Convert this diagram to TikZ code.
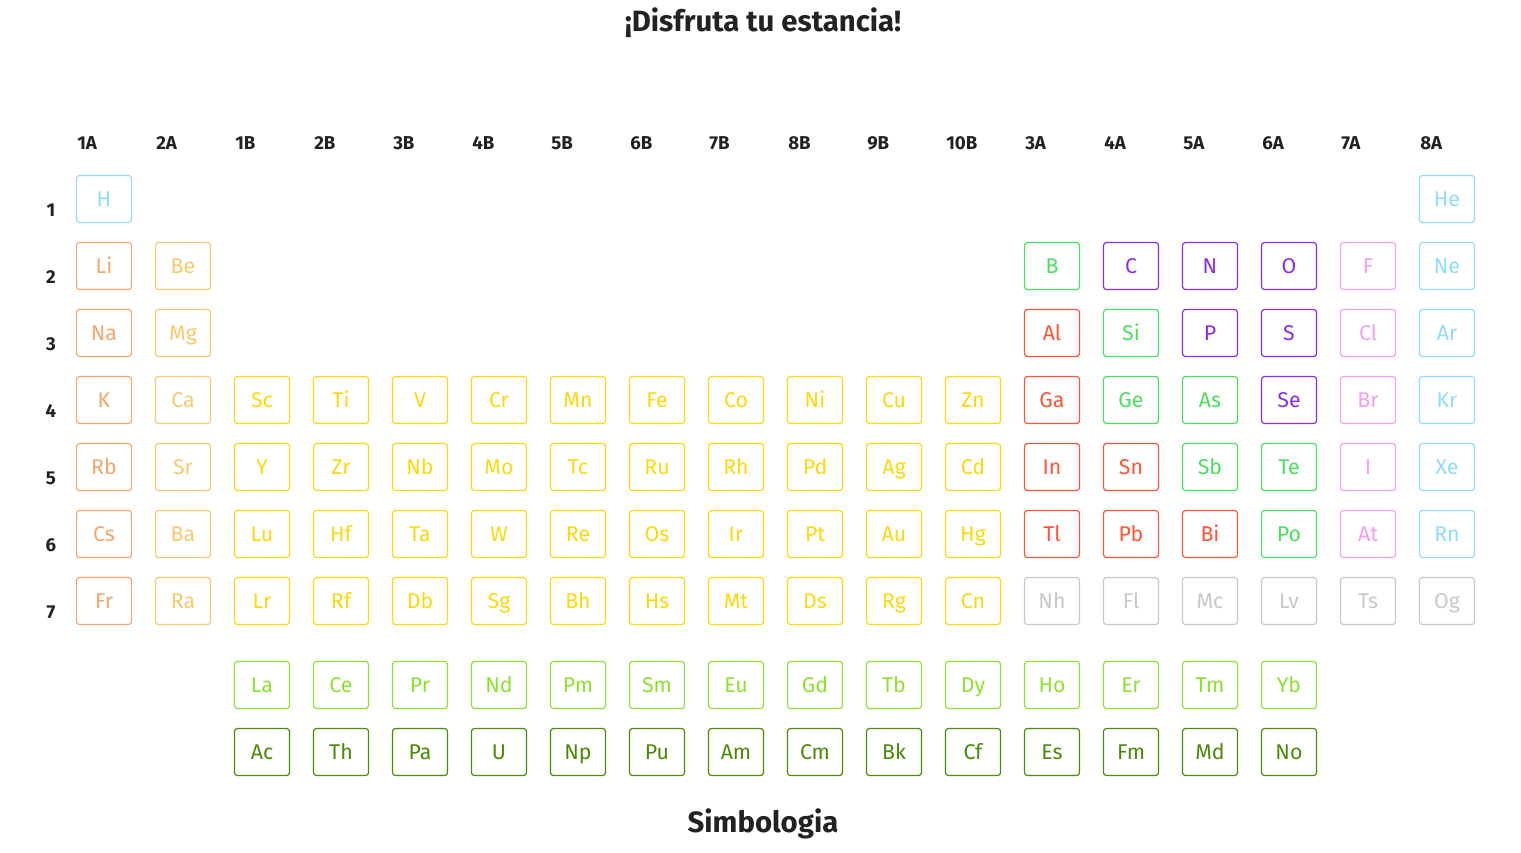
\documentclass[tikz,border=0pt]{standalone}
\usepackage{fontspec}
\setmainfont{Fira Sans}
\usepackage{tikz}

\definecolor{gascol}{HTML}{8FDCFF}
\definecolor{alkcol}{HTML}{F5A66A}
\definecolor{earthcol}{HTML}{F9C96A}
\definecolor{transcol}{HTML}{FFD80A}
\definecolor{postcol}{HTML}{FF5436}
\definecolor{semicol}{HTML}{48E05C}
\definecolor{nonmcol}{HTML}{8A2BF5}
\definecolor{halcol}{HTML}{F59CF5}
\definecolor{unkcol}{HTML}{C8C8C8}
\definecolor{lancol}{HTML}{8EE22E}
\definecolor{actcol}{HTML}{4A8A04}
\definecolor{inkcol}{HTML}{222222}

\begin{document}
\begin{tikzpicture}[x=0.75pt, y=-0.75pt,
  elem/.style={draw, rounded corners=2.2pt, line width=0.9pt, inner sep=0pt,
    text height=11pt, text depth=0pt,
    minimum width=41.25pt, minimum height=35.25pt, font=\fontsize{16}{16}\selectfont},
  noble/.style={draw=gascol, text=gascol},
  alkali/.style={draw=alkcol, text=alkcol},
  earth/.style={draw=earthcol, text=earthcol},
  trans/.style={draw=transcol, text=transcol},
  post/.style={draw=postcol, text=postcol},
  semi/.style={draw=semicol, text=semicol},
  nonmetal/.style={draw=nonmcol, text=nonmcol},
  halogen/.style={draw=halcol, text=halcol},
  unknown/.style={draw=unkcol, text=unkcol},
  lantha/.style={draw=lancol, text=lancol},
  actin/.style={draw=actcol, text=actcol},
  grouplab/.style={anchor=west, inner sep=0pt, text=inkcol, font=\fontsize{14}{14}\selectfont\bfseries},
  periodlab/.style={inner sep=0pt, text=inkcol, font=\fontsize{14}{14}\selectfont\bfseries}]
\useasboundingbox (0,0) rectangle (1521,853);

% titles
\node [text=inkcol, font=\fontsize{22}{22}\selectfont\bfseries] (title) at (763,23) {¡Disfruta tu estancia!};
\node [text=inkcol, font=\fontsize{22}{22}\selectfont\bfseries] (simbologia) at (763,824) {Simbologia};

% group labels
\foreach \g [count=\c] in {1A,2A,1B,2B,3B,4B,5B,6B,7B,8B,9B,10B,3A,4A,5A,6A,7A,8A}
  \node [grouplab] (g\c) at ({77+79*(\c-1)},143) {\g};

% period labels
\foreach \p in {1,...,7}
  \node [periodlab] (p\p) at (51,{210+67*(\p-1)}) {\p};

% period 1
\foreach \s/\c/\k in {H/1/noble, He/18/noble}
  \node [elem, \k] (\s) at ({104+79*(\c-1)},199) {\s};

% period 2
\foreach \s/\c/\k in {Li/1/alkali, Be/2/earth, B/13/semi, C/14/nonmetal,
    N/15/nonmetal, O/16/nonmetal, F/17/halogen, Ne/18/noble}
  \node [elem, \k] (\s) at ({104+79*(\c-1)},266) {\s};

% period 3
\foreach \s/\c/\k in {Na/1/alkali, Mg/2/earth, Al/13/post, Si/14/semi,
    P/15/nonmetal, S/16/nonmetal, Cl/17/halogen, Ar/18/noble}
  \node [elem, \k] (\s) at ({104+79*(\c-1)},333) {\s};

% period 4
\foreach \s/\c/\k in {K/1/alkali, Ca/2/earth, Sc/3/trans, Ti/4/trans, V/5/trans,
    Cr/6/trans, Mn/7/trans, Fe/8/trans, Co/9/trans, Ni/10/trans, Cu/11/trans,
    Zn/12/trans, Ga/13/post, Ge/14/semi, As/15/semi, Se/16/nonmetal,
    Br/17/halogen, Kr/18/noble}
  \node [elem, \k] (\s) at ({104+79*(\c-1)},400) {\s};

% period 5
\foreach \s/\c/\k in {Rb/1/alkali, Sr/2/earth, Y/3/trans, Zr/4/trans, Nb/5/trans,
    Mo/6/trans, Tc/7/trans, Ru/8/trans, Rh/9/trans, Pd/10/trans, Ag/11/trans,
    Cd/12/trans, In/13/post, Sn/14/post, Sb/15/semi, Te/16/semi,
    I/17/halogen, Xe/18/noble}
  \node [elem, \k] (\s) at ({104+79*(\c-1)},467) {\s};

% period 6
\foreach \s/\c/\k in {Cs/1/alkali, Ba/2/earth, Lu/3/trans, Hf/4/trans, Ta/5/trans,
    W/6/trans, Re/7/trans, Os/8/trans, Ir/9/trans, Pt/10/trans, Au/11/trans,
    Hg/12/trans, Tl/13/post, Pb/14/post, Bi/15/post, Po/16/semi,
    At/17/halogen, Rn/18/noble}
  \node [elem, \k] (\s) at ({104+79*(\c-1)},534) {\s};

% period 7
\foreach \s/\c/\k in {Fr/1/alkali, Ra/2/earth, Lr/3/trans, Rf/4/trans, Db/5/trans,
    Sg/6/trans, Bh/7/trans, Hs/8/trans, Mt/9/trans, Ds/10/trans, Rg/11/trans,
    Cn/12/trans, Nh/13/unknown, Fl/14/unknown, Mc/15/unknown, Lv/16/unknown,
    Ts/17/unknown, Og/18/unknown}
  \node [elem, \k] (\s) at ({104+79*(\c-1)},601) {\s};

% lanthanides
\foreach \s [count=\c from 3] in {La,Ce,Pr,Nd,Pm,Sm,Eu,Gd,Tb,Dy,Ho,Er,Tm,Yb}
  \node [elem, lantha] (\s) at ({104+79*(\c-1)},685) {\s};

% actinides
\foreach \s [count=\c from 3] in {Ac,Th,Pa,U,Np,Pu,Am,Cm,Bk,Cf,Es,Fm,Md,No}
  \node [elem, actin] (\s) at ({104+79*(\c-1)},752) {\s};

\end{tikzpicture}
\end{document}
